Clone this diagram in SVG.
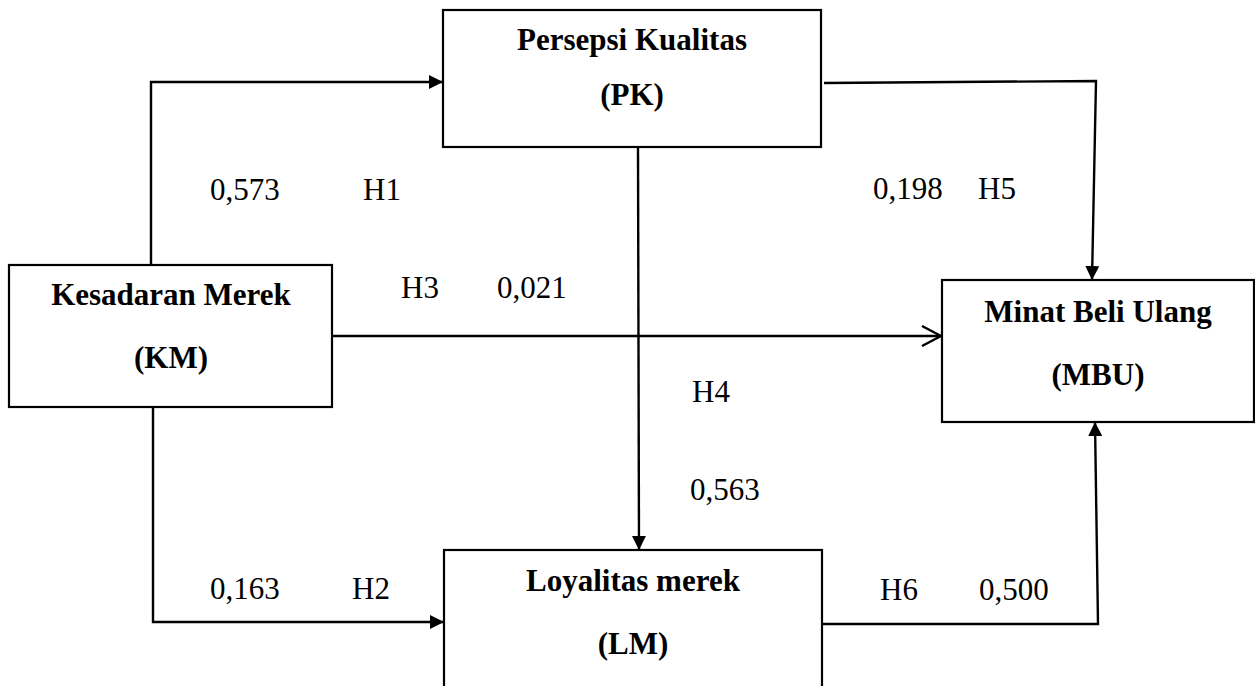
<svg xmlns="http://www.w3.org/2000/svg" width="1255" height="686" viewBox="0 0 1255 686">
<style>
.box{fill:#fff;stroke:#000;stroke-width:2.2}
.t{font-family:"Liberation Serif","Times New Roman",serif;font-size:31px;font-weight:bold;fill:#000;text-anchor:middle}
.l{font-family:"Liberation Serif","Times New Roman",serif;font-size:31px;fill:#000}
.c{fill:none;stroke:#000;stroke-width:2.4}
</style>
<defs>
<marker id="fa" viewBox="0 0 14 14" refX="14" refY="7" markerWidth="14" markerHeight="14" markerUnits="userSpaceOnUse" orient="auto">
<path d="M0,0 L14,7 L0,14 Z" fill="#000"/>
</marker>
<marker id="oa" viewBox="0 0 22 22" refX="20" refY="11" markerWidth="22" markerHeight="22" markerUnits="userSpaceOnUse" orient="auto">
<path d="M1,1 L20,11 L1,21" fill="none" stroke="#000" stroke-width="2.4"/>
</marker>
</defs>
<rect width="1255" height="686" fill="#fff"/>
<g id="connectors">
<polyline class="c" points="151,265 151,82 443,82" marker-end="url(#fa)"/>
<polyline class="c" points="824,83 1096,81 1092,280" marker-end="url(#fa)"/>
<line class="c" x1="332" y1="336" x2="941" y2="336" marker-end="url(#oa)"/>
<line class="c" x1="638" y1="147" x2="639" y2="550" marker-end="url(#fa)"/>
<polyline class="c" points="153,407 153,622 444,622" marker-end="url(#fa)"/>
<polyline class="c" points="822,624 1098,624 1095,422" marker-end="url(#fa)"/>
</g>
<g id="node-pk">
<rect class="box" x="443" y="10" width="378" height="137"/>
<text class="t" x="632" y="50">Persepsi Kualitas</text>
<text class="t" x="632" y="105">(PK)</text>
</g>
<g id="node-km">
<rect class="box" x="9" y="265" width="323" height="142"/>
<text class="t" x="171" y="305">Kesadaran Merek</text>
<text class="t" x="171" y="368">(KM)</text>
</g>
<g id="node-mbu">
<rect class="box" x="942" y="280" width="312" height="142"/>
<text class="t" x="1098" y="322">Minat Beli Ulang</text>
<text class="t" x="1098" y="385">(MBU)</text>
</g>
<g id="node-lm">
<rect class="box" x="444" y="550" width="378" height="150"/>
<text class="t" x="633" y="591">Loyalitas merek</text>
<text class="t" x="633" y="654">(LM)</text>
</g>
<g id="labels">
<text class="l" x="210" y="200">0,573</text>
<text class="l" x="363" y="200">H1</text>
<text class="l" x="873" y="199">0,198</text>
<text class="l" x="978" y="199">H5</text>
<text class="l" x="401" y="298">H3</text>
<text class="l" x="497" y="298">0,021</text>
<text class="l" x="692" y="402">H4</text>
<text class="l" x="690" y="500">0,563</text>
<text class="l" x="210" y="599">0,163</text>
<text class="l" x="352" y="599">H2</text>
<text class="l" x="880" y="600">H6</text>
<text class="l" x="979" y="600">0,500</text>
</g>
</svg>
